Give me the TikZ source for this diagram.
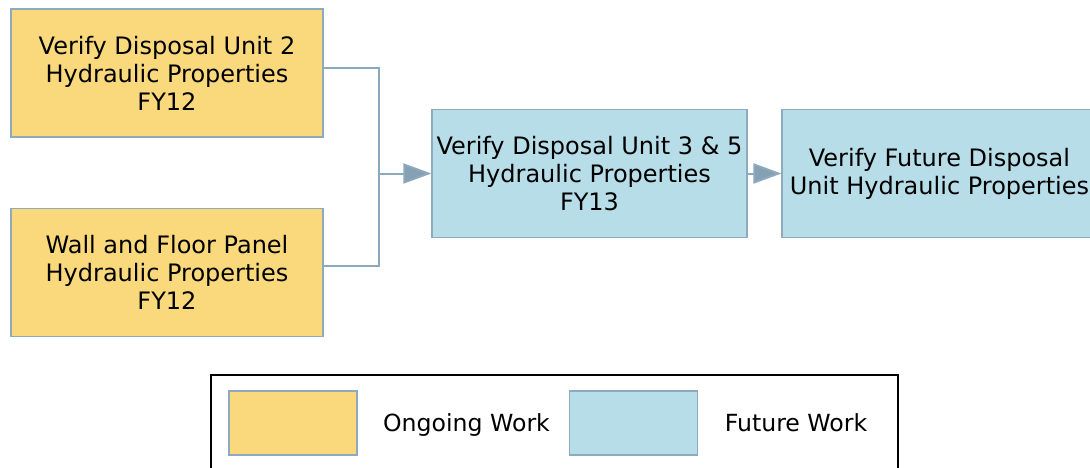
\documentclass[tikz,border=0pt]{standalone}
\usepackage{fontspec}
\setmainfont{DejaVu Sans}
\usetikzlibrary{positioning,arrows.meta}
\definecolor{ongoing}{HTML}{F9D97C}
\definecolor{future}{HTML}{B7DDE8}
\definecolor{edge}{HTML}{8EAABE}
\definecolor{link}{HTML}{8CA8BC}
\begin{document}
\begin{tikzpicture}[x=0.75pt, y=-0.75pt,
  task/.style={draw=edge, line width=0.9pt, align=center, minimum width=312*0.75pt,
    minimum height=128*0.75pt, inner sep=0pt, font=\fontsize{18}{21}\selectfont},
  ongoingtask/.style={task, fill=ongoing},
  futuretask/.style={task, fill=future, minimum width=315*0.75pt},
  swatch/.style={draw=edge, line width=0.8pt, minimum width=128*0.75pt, minimum height=64*0.75pt, inner sep=0pt},
  legtext/.style={font=\fontsize{17.7}{20}\selectfont, anchor=base},
  flow/.style={link, line width=1.5pt, -{Triangle[length=21pt, width=15pt, fill=link!95!black]}}]
\useasboundingbox (0,0) rectangle (1090,468);
% Boites
\node[ongoingtask] (unit2) at (167,73) {Verify Disposal Unit 2\\Hydraulic Properties\\FY12};
\node[ongoingtask] (panel) at (167,272.5) {Wall and Floor Panel\\Hydraulic Properties\\FY12};
\node[futuretask] (unit35) at (589.5,173.5) {Verify Disposal Unit 3 \& 5\\Hydraulic Properties\\FY13};
\node[futuretask] (futureunit) at (939.5,173.5) {Verify Future Disposal\\Unit Hydraulic Properties};
% Liaisons
\coordinate (join) at (379,173.5);
\draw[link, line width=1.5pt] (unit2.east |- 0,68) -| (join);
\draw[link, line width=1.5pt] (panel.east |- 0,266) -| (join);
\draw[flow] (join) -- (unit35.west);
\draw[flow] (unit35.east) -- (futureunit.west);
% Legende
\draw[black, line width=0.9pt] (211,375) rectangle (898,480);
\node[swatch, fill=ongoing] (ongoingkey) at (293,423) {};
\node[legtext] (ongoinglbl) at (466.5,431) {Ongoing Work};
\node[swatch, fill=future] (futurekey) at (633.5,423) {};
\node[legtext] (futurelbl) at (796,431) {Future Work};
\end{tikzpicture}
\end{document}
